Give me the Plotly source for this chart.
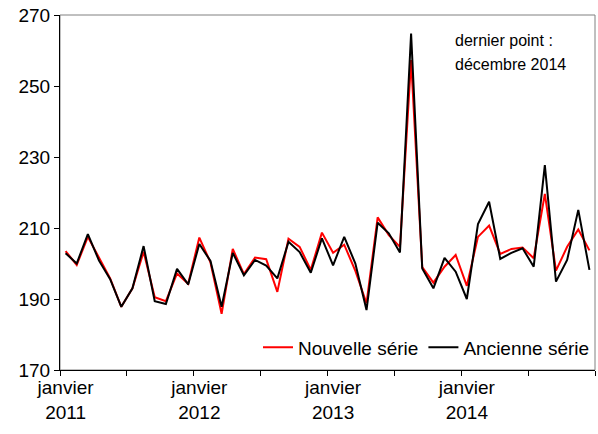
"""
Nouvelle série vs ancienne série, mensuel 2011-2014.
"""
import plotly.graph_objects as go

# Mois (janvier 2011 -> décembre 2014)
mois = [f"{m:02d}/{a}" for a in range(2011, 2015) for m in range(1, 13)]

nouvelle_serie = [
    203.5, 199.6, 207.5, 201.5, 195.8, 187.8, 193.0, 203.3, 190.5, 189.4, 197.2, 194.3,
    207.3, 200.3, 185.8, 204.1, 197.0, 201.7, 201.2, 192.0, 207.0, 204.7, 198.2, 208.7,
    203.0, 205.3, 197.9, 188.8, 213.0, 208.0, 204.7, 257.3, 199.0, 194.6, 199.1, 202.4,
    193.7, 207.5, 210.7, 202.7, 204.1, 204.5, 201.5, 219.6, 198.0, 204.7, 209.6, 203.7,
]
ancienne_serie = [
    202.9, 200.0, 208.3, 200.8, 195.6, 187.8, 193.0, 204.9, 189.4, 188.6, 198.5, 194.1,
    205.5, 200.7, 187.8, 203.0, 196.7, 201.0, 199.4, 195.8, 206.1, 203.2, 197.4, 207.1,
    199.5, 207.5, 200.0, 186.9, 211.5, 208.5, 203.1, 264.8, 198.6, 193.0, 201.6, 197.7,
    190.0, 211.1, 217.4, 201.3, 203.0, 204.3, 199.1, 227.7, 194.9, 201.0, 215.1, 198.2,
]

# Étiquettes de l'axe x (une par an)
etiquettes_pos = [0, 12, 24, 36]
etiquettes = ["janvier<br>2011", "janvier<br>2012", "janvier<br>2013", "janvier<br>2014"]

x = list(range(len(mois)))

fig = go.Figure()
fig.add_trace(
    go.Scatter(
        x=x, y=nouvelle_serie, mode="lines", name="Nouvelle série",
        line=dict(color="#ff0000", width=2), customdata=mois,
    )
)
fig.add_trace(
    go.Scatter(
        x=x, y=ancienne_serie, mode="lines", name="Ancienne série",
        line=dict(color="black", width=2), customdata=mois,
    )
)

# Cadre gris (haut et droite)
fig.add_shape(
    type="rect", xref="paper", yref="paper", x0=0, x1=1, y0=0, y1=1,
    line=dict(color="#808080", width=1), layer="below",
)

# Note "dernier point" (deux lignes placées séparément)
for texte, pos_y in [("dernier point :", 0.928), ("décembre 2014", 0.86)]:
    fig.add_annotation(
        xref="paper", yref="paper", x=0.735, y=pos_y, xanchor="left", yanchor="middle",
        text=texte, showarrow=False, align="left",
        font=dict(size=16, color="black"),
    )

fig.update_layout(
    width=598,
    height=434,
    margin=dict(l=60, r=3, t=15, b=64, autoexpand=False),
    plot_bgcolor="white",
    paper_bgcolor="white",
    font=dict(family="Liberation Sans, Arial, sans-serif", size=19, color="black"),
    showlegend=True,
    legend=dict(
        orientation="h", x=1, xanchor="right", y=0.01, yanchor="bottom",
        bgcolor="rgba(0,0,0,0)", font=dict(size=19), itemwidth=30,
    ),
    xaxis=dict(
        range=[-0.5, len(mois) - 0.5], automargin=False,
        tickmode="array", tickvals=etiquettes_pos, ticktext=etiquettes,
        ticks="", showgrid=False, zeroline=False,
        showline=True, linecolor="black", linewidth=1,
        minor=dict(
            tickmode="array",
            tickvals=[i - 0.5 for i in range(0, len(mois) + 1, 6)],
            ticks="outside", ticklen=5, tickcolor="black", showgrid=False,
        ),
    ),
    yaxis=dict(
        range=[170, 270], automargin=False,
        tickmode="array", tickvals=[170, 190, 210, 230, 250, 270],
        ticks="outside", ticklen=5, tickcolor="black", ticklabeloverflow="allow",
        showgrid=False, zeroline=False,
        showline=True, linecolor="black", linewidth=1,
    ),
)

# Retirer la marge par défaut de la page, sans barre d'outils
fig.write_html(
    "out.html",
    config={"displayModeBar": False},
    post_script="document.body.style.margin = '0';",
)
